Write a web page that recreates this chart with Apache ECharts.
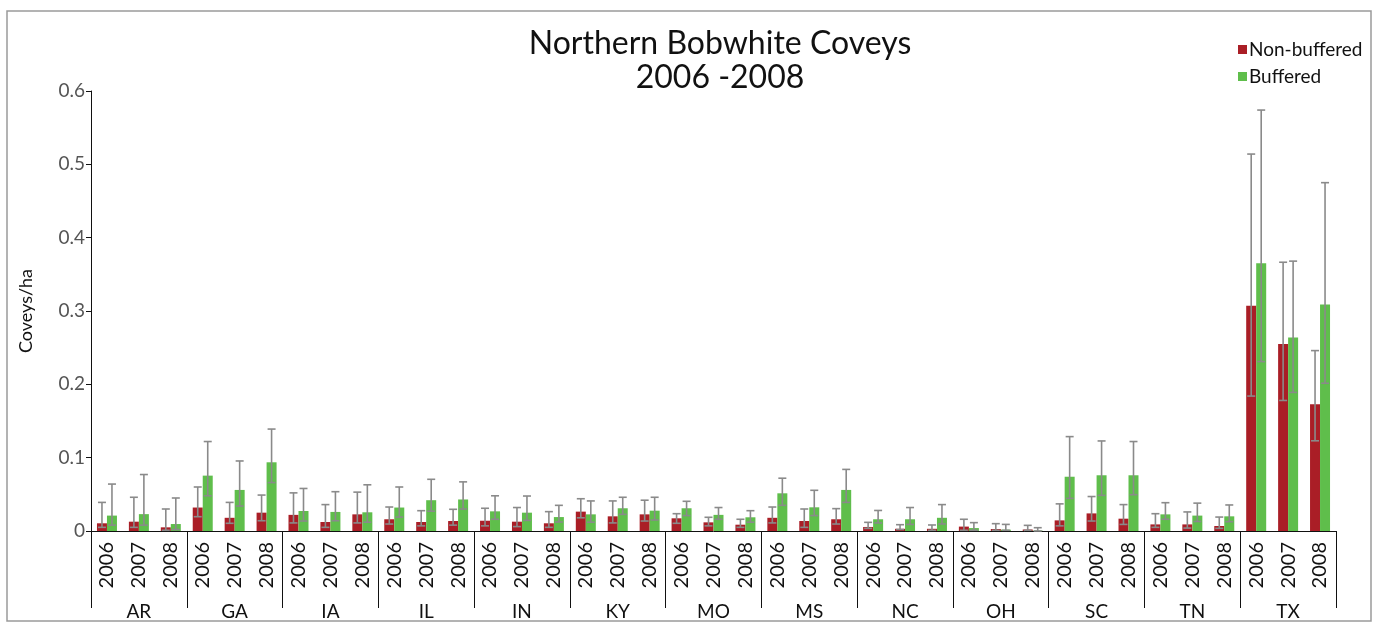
<!DOCTYPE html>
<html>
<head>
<meta charset="utf-8">
<script src="https://cdn.jsdelivr.net/npm/echarts@6/dist/echarts.min.js"></script>
<style>
html,body{margin:0;padding:0;background:#fff;}
#chart{width:1375px;height:624px;}
</style>
</head>
<body>
<div id="chart"></div>
<script>
// ---- data ----
const states = ['AR','GA','IA','IL','IN','KY','MO','MS','NC','OH','SC','TN','TX'];
const years = ['2006','2007','2008'];

const nonBuffered = [
  0.0105, 0.0127, 0.005,
  0.032, 0.018, 0.025,
  0.022, 0.0123, 0.0227,
  0.016, 0.0123, 0.0136,
  0.014, 0.0127, 0.0105,
  0.0264, 0.020, 0.0227,
  0.0173, 0.0118, 0.0086,
  0.018, 0.0136, 0.016,
  0.0055, 0.003, 0.003,
  0.006, 0.0027, 0.002,
  0.0145, 0.024, 0.0168,
  0.009, 0.009, 0.0068,
  0.307, 0.255, 0.173
];
const nonBufferedLow = [
  0.005, 0.005, 0.001,
  0.0195, 0.0105, 0.014,
  0.011, 0.005, 0.011,
  0.0095, 0.007, 0.008,
  0.007, 0.006, 0.005,
  0.018, 0.011, 0.0136,
  0.0105, 0.007, 0.005,
  0.011, 0.005, 0.0095,
  0.0036, 0.002, 0.001,
  0.001, 0.001, 0.001,
  0.007, 0.0136, 0.009,
  0.005, 0.004, 0.0036,
  0.184, 0.178, 0.123
];
const nonBufferedHigh = [
  0.039, 0.046, 0.030,
  0.060, 0.039, 0.049,
  0.052, 0.036, 0.053,
  0.0327, 0.0277, 0.0296,
  0.031, 0.032, 0.0264,
  0.044, 0.041, 0.042,
  0.0236, 0.0187, 0.016,
  0.0327, 0.030, 0.0305,
  0.0118, 0.0086, 0.0082,
  0.016, 0.010, 0.0077,
  0.037, 0.047, 0.036,
  0.0236, 0.026, 0.019,
  0.514, 0.3665, 0.246
];
const buffered = [
  0.021, 0.023, 0.0095,
  0.0755, 0.056, 0.0937,
  0.0273, 0.026, 0.0255,
  0.032, 0.042, 0.043,
  0.0268, 0.025, 0.019,
  0.0227, 0.031, 0.0277,
  0.031, 0.022, 0.0187,
  0.0514, 0.0323, 0.056,
  0.016, 0.016, 0.018,
  0.004, 0.0018, 0.0005,
  0.074, 0.076, 0.076,
  0.0227, 0.021, 0.020,
  0.365, 0.264, 0.309
];
const bufferedLow = [
  0.008, 0.008, 0.002,
  0.048, 0.034, 0.066,
  0.0136, 0.014, 0.012,
  0.019, 0.027, 0.030,
  0.016, 0.0145, 0.0123,
  0.012, 0.0227, 0.015,
  0.021, 0.016, 0.012,
  0.035, 0.021, 0.039,
  0.011, 0.009, 0.0096,
  0.001, 0.001, 0.0,
  0.0445, 0.0486, 0.0495,
  0.016, 0.013, 0.0127,
  0.231, 0.189, 0.2015
];
const bufferedHigh = [
  0.064, 0.077, 0.045,
  0.122, 0.0955, 0.139,
  0.058, 0.0536, 0.063,
  0.060, 0.0705, 0.067,
  0.048, 0.0477, 0.035,
  0.041, 0.046, 0.046,
  0.0405, 0.032, 0.0277,
  0.072, 0.0555, 0.084,
  0.028, 0.032, 0.036,
  0.0114, 0.009, 0.0045,
  0.1287, 0.1228, 0.122,
  0.0386, 0.038, 0.0355,
  0.574, 0.368, 0.475
];
const yTicks = [0, 0.1, 0.2, 0.3, 0.4, 0.5, 0.6];

// ---- build ----
const cats = [];
states.forEach(s => years.forEach(y => cats.push(y)));

const FONT = 'Lato, "DejaVu Sans", sans-serif';
const RED = '#aa1e26';
const GREEN = '#5fbe4b';
const BAR_W = 10;

function errData(low, high) {
  return low.map((l, i) => [i, l, high[i]]);
}
function errSeries(low, high, offset) {
  return {
    type: 'custom',
    xAxisIndex: 0,
    z: 5,
    silent: true,
    encode: { x: 0, y: [1, 2] },
    data: errData(low, high),
    renderItem: function (params, api) {
      const i = api.value(0);
      const lo = api.coord([i, api.value(1)]);
      const hi = api.coord([i, api.value(2)]);
      const x = lo[0] + offset;
      const cap = 4;
      const style = { stroke: '#8a8a8a', lineWidth: 1.6 };
      return {
        type: 'group',
        children: [
          { type: 'line', shape: { x1: x, y1: lo[1], x2: x, y2: hi[1] }, style: style },
          { type: 'line', shape: { x1: x - cap, y1: hi[1], x2: x + cap, y2: hi[1] }, style: style },
          { type: 'line', shape: { x1: x - cap, y1: lo[1], x2: x + cap, y2: lo[1] }, style: style }
        ]
      };
    }
  };
}

const chart = echarts.init(document.getElementById('chart'), null, { renderer: 'canvas' });
chart.setOption({
  animation: false,
  backgroundColor: '#fff',
  textStyle: { fontFamily: FONT },
  graphic: [{
    type: 'rect', z: -10,
    shape: { x: 7, y: 11, width: 1364, height: 610 },
    style: { fill: 'none', stroke: '#9a9a9a', lineWidth: 1.5 }
  }],
  title: {
    text: 'Northern Bobwhite Coveys\n2006 -2008',
    left: 715, top: 22, textAlign: 'center',
    textStyle: { fontFamily: FONT, fontSize: 32, fontWeight: 'normal', color: '#111', lineHeight: 34 }
  },
  legend: {
    orient: 'vertical',
    left: 1233, top: 35,
    itemWidth: 9, itemHeight: 9, itemGap: 8,
    icon: 'rect',
    textStyle: { fontFamily: FONT, fontSize: 19, color: '#111', padding: [0, 0, 0, -3] },
    data: ['Non-buffered', 'Buffered']
  },
  grid: { left: 91, right: 39, top: 91, bottom: 93 },
  xAxis: [{
    type: 'category',
    data: cats,
    position: 'bottom',
    axisLine: { show: true, lineStyle: { color: '#111', width: 1 } },
    axisTick: { show: false },
    axisLabel: { rotate: 90, margin: 11, fontSize: 20, color: '#111', fontFamily: FONT, interval: 0 }
  }, {
    type: 'category',
    data: states,
    position: 'bottom',
    axisLine: { show: false },
    axisTick: { show: true, length: 77, lineStyle: { color: '#111', width: 1 } },
    axisLabel: { margin: 71, fontSize: 19, color: '#111', fontFamily: FONT, interval: 0 }
  }],
  yAxis: {
    type: 'value',
    min: yTicks[0], max: yTicks[yTicks.length - 1], interval: 0.1,
    name: 'Coveys/ha',
    nameLocation: 'middle',
    nameGap: 56,
    nameTextStyle: { fontSize: 18, color: '#111', fontFamily: FONT },
    axisLine: { show: true, lineStyle: { color: '#111', width: 1 } },
    axisTick: { show: true, length: 5, lineStyle: { color: '#111' } },
    splitLine: { show: false },
    axisLabel: {
      fontSize: 19, color: '#555', fontFamily: FONT, margin: 6,
      formatter: v => (v === 0 ? '0' : v.toFixed(1))
    }
  },
  series: [{
    name: 'Non-buffered',
    type: 'bar',
    data: nonBuffered,
    barWidth: BAR_W,
    barGap: '0%',
    itemStyle: { color: RED }
  }, {
    name: 'Buffered',
    type: 'bar',
    data: buffered,
    barWidth: BAR_W,
    barGap: '0%',
    itemStyle: { color: GREEN }
  },
  errSeries(nonBufferedLow, nonBufferedHigh, -BAR_W / 2),
  errSeries(bufferedLow, bufferedHigh, BAR_W / 2)
  ]
});
</script>
</body>
</html>
